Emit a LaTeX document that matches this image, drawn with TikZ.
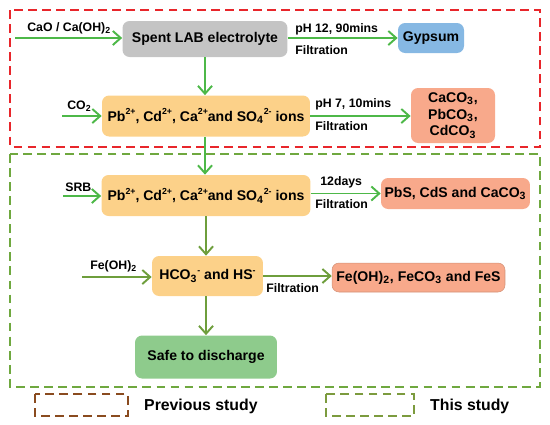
\documentclass[tikz,border=0pt]{standalone}
\usepackage{fontspec}
\setmainfont{Liberation Sans}
\usetikzlibrary{arrows.meta}
\definecolor{flowgreen}{HTML}{4DB848}
\definecolor{flowolive}{HTML}{6E9E3C}
\definecolor{prevred}{HTML}{E8262B}
\definecolor{thisgreen}{HTML}{6FA83F}
\definecolor{legbrown}{HTML}{8A4B1F}
\definecolor{leggreen}{HTML}{7C9B3E}
\definecolor{boxgray}{HTML}{C4C4C4}
\definecolor{boxblue}{HTML}{86B8E3}
\definecolor{boxorange}{HTML}{FCD189}
\definecolor{boxsalmon}{HTML}{F8A98B}
\definecolor{boxgreen}{HTML}{8ECB8C}
\newcommand{\ionsup}[1]{\raisebox{0.9ex}{\fontsize{5}{5}\selectfont #1}}

\begin{document}
\begin{tikzpicture}[x=0.02cm,y=-0.02cm,
    every node/.style={font=\bfseries\fontsize{8}{9.5}\selectfont},
    box/.style={rounded corners=4pt, align=center, inner sep=1pt},
    lbl/.style={font=\bfseries\fontsize{7}{8}\selectfont, inner sep=0pt},
    flow/.style={line width=1.1pt, draw=flowgreen, -{Straight Barb[length=4.5pt,width=8pt]}},
    studybox/.style={line width=1.3pt, dash pattern=on 5pt off 3pt}]
    \useasboundingbox (0,0) rectangle (550,424);
    % study frames
    \draw[studybox, draw=thisgreen] (10,154) rectangle (540,387);
    \draw[studybox, draw=prevred] (10,10) rectangle (540,147);
    % previous study: neutralisation and carbonation
    \node[box, fill=boxgray, minimum width=3.3cm, minimum height=0.72cm] (spent) at (205,39) {Spent LAB electrolyte};
    \node[box, fill=boxblue, minimum width=1.32cm, minimum height=0.6cm] (gypsum) at (431,38) {Gypsum};
    \node[box, fill=boxorange, minimum width=4.16cm, minimum height=0.82cm] (ionsa) at (206,116)
      {Pb\ionsup{2+}, Cd\ionsup{2+}, Ca\ionsup{2+}and SO\textsubscript{4}\ionsup{2-} ions};
    \node[box, fill=boxsalmon, minimum width=1.68cm, minimum height=1.1cm] (carb) at (453,115.5)
      {CaCO\textsubscript{3},\\PbCO\textsubscript{3},\\CdCO\textsubscript{3}};
    \coordinate (caoin) at (15,38);
    \coordinate (coin) at (62,116);
    \node[lbl, anchor=south west] (cao) at (27,34) {CaO / Ca(OH)\textsubscript{2}};
    \node[lbl, anchor=south west] (co) at (67,112) {CO\textsubscript{2}};
    \draw[flow] (caoin) -- (caoin -| spent.west);
    \draw[flow] (coin) -- (coin -| ionsa.west);
    \draw[flow] (spent.east |- gypsum) -- (gypsum.west);
    \node[lbl, anchor=west] (pha) at (295,29) {pH 12, 90mins};
    \node[lbl, anchor=west] (filta) at (295,50) {Filtration};
    \draw[flow] (ionsa.east) -- (carb.west |- ionsa);
    \node[lbl, anchor=west] (phb) at (315,104) {pH 7, 10mins};
    \node[lbl, anchor=west] (filtb) at (315,126) {Filtration};
    \draw[flow] (spent.south) -- (spent.south |- ionsa.north);
    % this study: sulfate reduction
    \node[box, fill=boxorange, minimum width=4.18cm, minimum height=0.82cm] (ionsb) at (206,195.5)
      {Pb\ionsup{2+}, Cd\ionsup{2+}, Ca\ionsup{2+}and SO\textsubscript{4}\ionsup{2-} ions};
    \node[box, fill=boxsalmon, minimum width=2.98cm, minimum height=0.62cm] (sulf) at (455.5,193.5)
      {PbS, CdS and CaCO\textsubscript{3}};
    \node[box, fill=boxorange, minimum width=2.22cm, minimum height=0.8cm] (hco) at (207.5,276)
      {HCO\textsubscript{3}\ionsup{-} and HS\ionsup{-}};
    \node[box, fill=boxsalmon, draw=boxsalmon!85!black, line width=0.3pt, minimum width=3.46cm, minimum height=0.58cm] (fes) at (418.5,277.5)
      {Fe(OH)\textsubscript{2}, FeCO\textsubscript{3} and FeS};
    \node[box, fill=boxgreen, minimum width=2.84cm, minimum height=0.86cm] (safe) at (206,357) {Safe to discharge};
    \coordinate (srbin) at (63,196);
    \coordinate (fein) at (82,277);
    \node[lbl, anchor=south west] (srb) at (65,192) {SRB};
    \node[lbl, anchor=south west] (feoh) at (90,272) {Fe(OH)\textsubscript{2}};
    \draw[flow] (spent.south |- ionsa.south) -- (spent.south |- ionsb.north);
    \draw[flow] (srbin) -- (srbin -| ionsb.west);
    \draw[flow] (ionsb.east |- sulf) -- (sulf.west);
    \node[lbl, anchor=west] (days) at (320,182) {12days};
    \node[lbl, anchor=west] (filtc) at (315,204) {Filtration};
    \draw[flow, draw=flowolive] (ionsb.south) -- (ionsb.south |- hco.north);
    \draw[flow, draw=flowolive] (fein) -- (fein -| hco.west);
    \draw[flow, draw=flowolive] (hco.east) -- (fes.west |- hco);
    \node[lbl, anchor=west] (filtd) at (266,288) {Filtration};
    \draw[flow, draw=flowolive] (safe.north |- hco.south) -- (safe.north);
    % legend
    \draw[studybox, draw=legbrown] (35,394) rectangle (128,416);
    \node[anchor=west, font=\bfseries\fontsize{9}{10}\selectfont] (prev) at (138,406) {Previous study};
    \draw[studybox, draw=leggreen] (326,394) rectangle (414,416);
    \node[anchor=west, font=\bfseries\fontsize{9}{10}\selectfont] (this) at (424,406) {This study};
\end{tikzpicture}
\end{document}
